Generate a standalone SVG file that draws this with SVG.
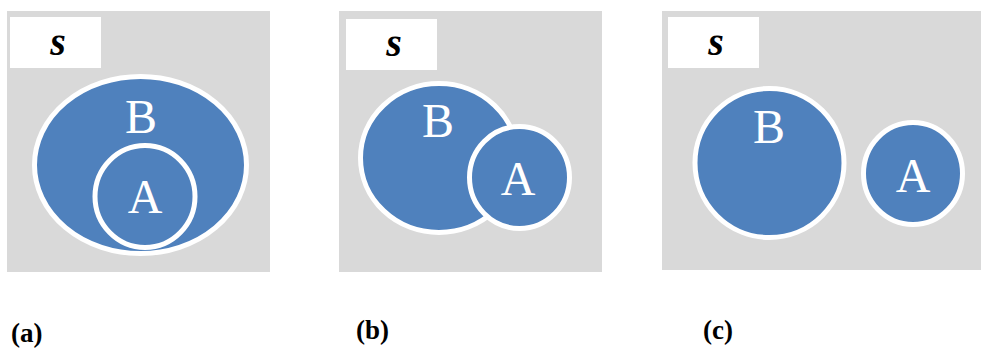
<svg xmlns="http://www.w3.org/2000/svg" width="981" height="349" viewBox="0 0 981 349">
<style>
.panel{fill:#d9d9d9}
.box{fill:#ffffff}
.set{fill:#4f81bd;stroke:#ffffff;stroke-width:5}
.s{font-weight:bold;font-style:italic;font-size:40px;fill:#000;text-anchor:middle}
.lbl{font-size:48px;fill:#ffffff;text-anchor:middle}
.cap{font-weight:bold;font-size:27px;fill:#000}
</style>
<rect x="0" y="0" width="981" height="349" fill="#ffffff"/>
<g font-family="'Liberation Serif', 'Times New Roman', 'DejaVu Serif', serif">
<g id="panel-a">
<rect class="panel" x="7" y="11" width="263" height="261"/>
<rect class="box" x="10" y="17" width="91" height="51"/>
<text class="s" x="58" y="55">s</text>
<g id="a-B"><ellipse class="set" cx="140.5" cy="165" rx="106" ry="88.5"/><text class="lbl" x="141" y="133">B</text></g>
<g id="a-A"><ellipse class="set" cx="145" cy="196.5" rx="50" ry="51"/><text class="lbl" x="145" y="213">A</text></g>
</g>
<g id="panel-b">
<rect class="panel" x="339" y="11" width="263" height="261"/>
<rect class="box" x="346" y="19" width="91" height="51"/>
<text class="s" x="394" y="56">s</text>
<g id="b-B"><ellipse class="set" cx="439" cy="158" rx="78.5" ry="74.5"/><text class="lbl" x="438" y="137">B</text></g>
<g id="b-A"><ellipse class="set" cx="519.5" cy="177.5" rx="50" ry="51"/><text class="lbl" x="518" y="195">A</text></g>
</g>
<g id="panel-c">
<rect class="panel" x="662" y="11" width="319" height="259"/>
<rect class="box" x="668" y="17" width="91" height="51"/>
<text class="s" x="716" y="55">s</text>
<g id="c-B"><circle class="set" cx="769.5" cy="163" r="74.5"/><text class="lbl" x="769" y="143">B</text></g>
<g id="c-A"><ellipse class="set" cx="913" cy="173.5" rx="49.5" ry="51"/><text class="lbl" x="913" y="192">A</text></g>
</g>
<g id="connectors"></g>
<text class="cap" x="11" y="342">(a)</text>
<text class="cap" x="356" y="339">(b)</text>
<text class="cap" x="703" y="339">(c)</text>
</g>
</svg>
